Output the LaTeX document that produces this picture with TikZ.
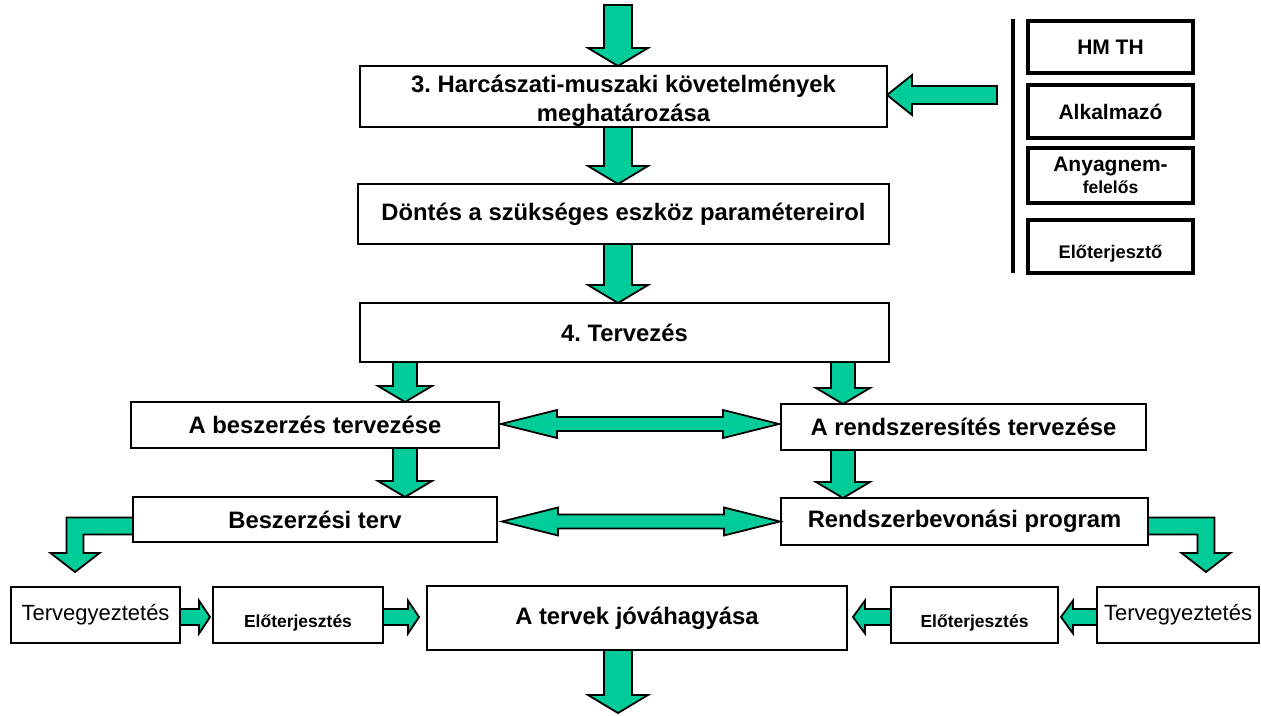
\documentclass[tikz,border=0pt]{standalone}
\usepackage{fontspec}
\setmainfont{Liberation Sans}
\usetikzlibrary{calc}
\definecolor{grn}{RGB}{0,204,153}
\frenchspacing
\tikzset{
  box/.style={draw, line width=2.8pt, fill=white, inner sep=0pt, outer sep=0pt, align=center,
    font=\fontsize{23.8}{29}\selectfont\bfseries},
  sbox/.style={draw, line width=3.6pt, fill=white, inner sep=0pt, outer sep=0pt, align=center,
    minimum width=165pt, font=\fontsize{21}{24}\selectfont\bfseries},
  tbox/.style={draw, line width=2.8pt, fill=white, inner sep=0pt, outer sep=0pt, align=center,
    minimum height=56pt, font=\fontsize{22}{26}\selectfont},
  ebox/.style={tbox, font=\fontsize{17.5}{20}\selectfont\bfseries, text height=25pt, text depth=0pt},
  barrow/.style={draw=black, fill=grn, line width=1.8pt, line join=miter},
}
% vertical block arrow: start, tip, half shaft, half head, head length
\newcommand\vArr[5]{\path[barrow] let \p1=#1, \p2=#2 in
  ({\x1-#3},{\y1}) -- ({\x1+#3},{\y1}) -- ({\x1+#3},{\y2+#5}) -- ({\x1+#4},{\y2+#5}) -- ({\x1},{\y2})
  -- ({\x1-#4},{\y2+#5}) -- ({\x1-#3},{\y2+#5}) -- cycle;}
% horizontal block arrow: start, tip, half shaft, half head, signed head length
\newcommand\hArr[5]{\path[barrow] let \p1=#1, \p2=#2 in
  ({\x1},{\y1+#3}) -- ({\x2-(#5)},{\y1+#3}) -- ({\x2-(#5)},{\y1+#4}) -- ({\x2},{\y1})
  -- ({\x2-(#5)},{\y1-#4}) -- ({\x2-(#5)},{\y1-#3}) -- ({\x1},{\y1-#3}) -- cycle;}
% double block arrow: left tip, right tip, half shaft, half head, head length
\newcommand\dArr[5]{\path[barrow] let \p1=#1, \p2=#2 in
  ({\x1},{\y1}) -- ({\x1+#5},{\y1+#4}) -- ({\x1+#5},{\y1+#3}) -- ({\x2-#5},{\y1+#3}) -- ({\x2-#5},{\y1+#4})
  -- ({\x2},{\y1}) -- ({\x2-#5},{\y1-#4}) -- ({\x2-#5},{\y1-#3}) -- ({\x1+#5},{\y1-#3}) -- ({\x1+#5},{\y1-#4}) -- cycle;}
% elbow block arrow: start on box side, tip, half shaft, half head, head length, side sign (-1 left, 1 right)
\newcommand\eArr[6]{\path[barrow] let \p1=#1, \p2=#2 in
  ({\x1},{\y1+#3}) -- ({\x2+(#6)*(#3)},{\y1+#3}) -- ({\x2+(#6)*(#3)},{\y2+#5}) -- ({\x2+(#6)*(#4)},{\y2+#5})
  -- ({\x2},{\y2}) -- ({\x2-(#6)*(#4)},{\y2+#5}) -- ({\x2-(#6)*(#3)},{\y2+#5}) -- ({\x2-(#6)*(#3)},{\y1-#3})
  -- ({\x1},{\y1-#3}) -- cycle;}

\begin{document}
\begin{tikzpicture}[x=1pt,y=-1pt]
\useasboundingbox (0,0) rectangle (1261,715);
\fill[white] (0,0) rectangle (1261,715);

% helper coordinates
\coordinate (xm) at (618,0);
\coordinate (xl) at (405,0);
\coordinate (xr) at (843,0);
\coordinate (yd1) at (0,424);
\coordinate (yd2) at (0,521.5);
\coordinate (yb) at (0,617);
\coordinate (ye1) at (0,526);
\coordinate (ye2) at (0,526);
\coordinate (top) at (618,5);
\coordinate (bot) at (618,713);
\coordinate (sa) at (997,95);
\coordinate (vl1) at (1013,19);
\coordinate (vl2) at (1013,273);

% main column
\node[box, minimum width=527pt, minimum height=61pt] (b1) at (623.5,96.5)
  {\rule{0pt}{26pt}3. Harcászati-muszaki követelmények\\meghatározása};
\node[box, minimum width=531pt, minimum height=60pt] (b2) at (623.5,214)
  {Döntés a szükséges eszköz paramétereirol};
\node[box, minimum width=529pt, minimum height=59pt] (b3) at (624.5,332.5) {4. Tervezés};
\node[box, minimum width=368pt, minimum height=46pt] (b4) at (315,425) {A beszerzés tervezése};
\node[box, minimum width=365pt, minimum height=46pt] (b5) at (963.5,427) {A rendszeresítés tervezése};
\node[box, minimum width=364pt, minimum height=45pt] (b6) at (315,519.5) {Beszerzési terv};
\node[box, minimum width=367pt, minimum height=47pt] (b7) at (964.5,521.5) {Rendszerbevonási program};

% bottom row
\node[tbox, minimum width=169pt] (tL) at (95.5,615) {Tervegyeztetés};
\node[ebox, minimum width=170pt] (eL) at (298,615) {Előterjesztés};
\node[box, minimum width=420pt, minimum height=64pt] (c) at (637,618) {A tervek jóváhagyása};
\node[ebox, minimum width=167pt] (eR) at (974.5,615) {Előterjesztés};
\node[tbox, minimum width=162pt] (tR) at (1178,615) {Tervegyeztetés};

% right column
\draw[line width=4pt] (vl1) -- (vl2);
\node[sbox, minimum height=52pt] (r1) at (1110.5,47) {HM TH};
\node[sbox, minimum height=53pt] (r2) at (1110.5,111.5) {Alkalmazó};
\node[sbox, minimum height=55pt] (r3) at (1110.5,175.5)
  {Anyagnem-\\[-2pt]{\fontsize{17.5}{20}\selectfont felelős}};
\node[sbox, minimum height=53pt, font=\fontsize{18.3}{20}\selectfont\bfseries, text height=24pt, text depth=0pt] (r4) at (1110.5,246.5) {Előterjesztő};

% vertical arrows
\vArr{(top)}{(b1.north -| xm)}{14pt}{30pt}{18pt}
\vArr{(b1.south -| xm)}{(b2.north -| xm)}{14pt}{30pt}{18pt}
\vArr{(b2.south -| xm)}{(b3.north -| xm)}{14pt}{30pt}{18pt}
\vArr{(b3.south -| xl)}{(b4.north -| xl)}{12pt}{27pt}{16pt}
\vArr{(b3.south -| xr)}{(b5.north -| xr)}{12pt}{27pt}{16pt}
\vArr{(b4.south -| xl)}{(b6.north -| xl)}{12pt}{27pt}{16pt}
\vArr{(b5.south -| xr)}{(b7.north -| xr)}{12pt}{27pt}{16pt}
\vArr{(c.south -| xm)}{(bot)}{14pt}{30pt}{18pt}

% double arrows
\dArr{($(b4.east |- yd1)+(2,0)$)}{($(b5.west |- yd1)+(-2,0)$)}{7pt}{14pt}{56pt}
\dArr{($(b6.east |- yd2)+(5,0)$)}{($(b7.west |- yd2)+(-1,0)$)}{7pt}{14pt}{56pt}

% side arrow
\hArr{(sa)}{(b1.east |- sa)}{9pt}{20pt}{-25pt}

% elbow arrows
\eArr{(b6.west |- ye1)}{($(tL.north west)+(64,-15)$)}{8.5pt}{24.5pt}{19pt}{-1}
\eArr{(b7.east |- ye2)}{($(tR.north east)+(-53,-15)$)}{8.5pt}{24.5pt}{19pt}{1}

% bottom small arrows
\hArr{(tL.east |- yb)}{($(eL.west |- yb)+(-3,0)$)}{8pt}{16.5pt}{11pt}
\hArr{(eL.east |- yb)}{($(c.west |- yb)+(-8,0)$)}{8pt}{16.5pt}{11pt}
\hArr{(eR.west |- yb)}{($(c.east |- yb)+(6,0)$)}{8pt}{16.5pt}{-12pt}
\hArr{(tR.west |- yb)}{($(eR.east |- yb)+(3,0)$)}{8pt}{16.5pt}{-12pt}
\end{tikzpicture}
\end{document}
